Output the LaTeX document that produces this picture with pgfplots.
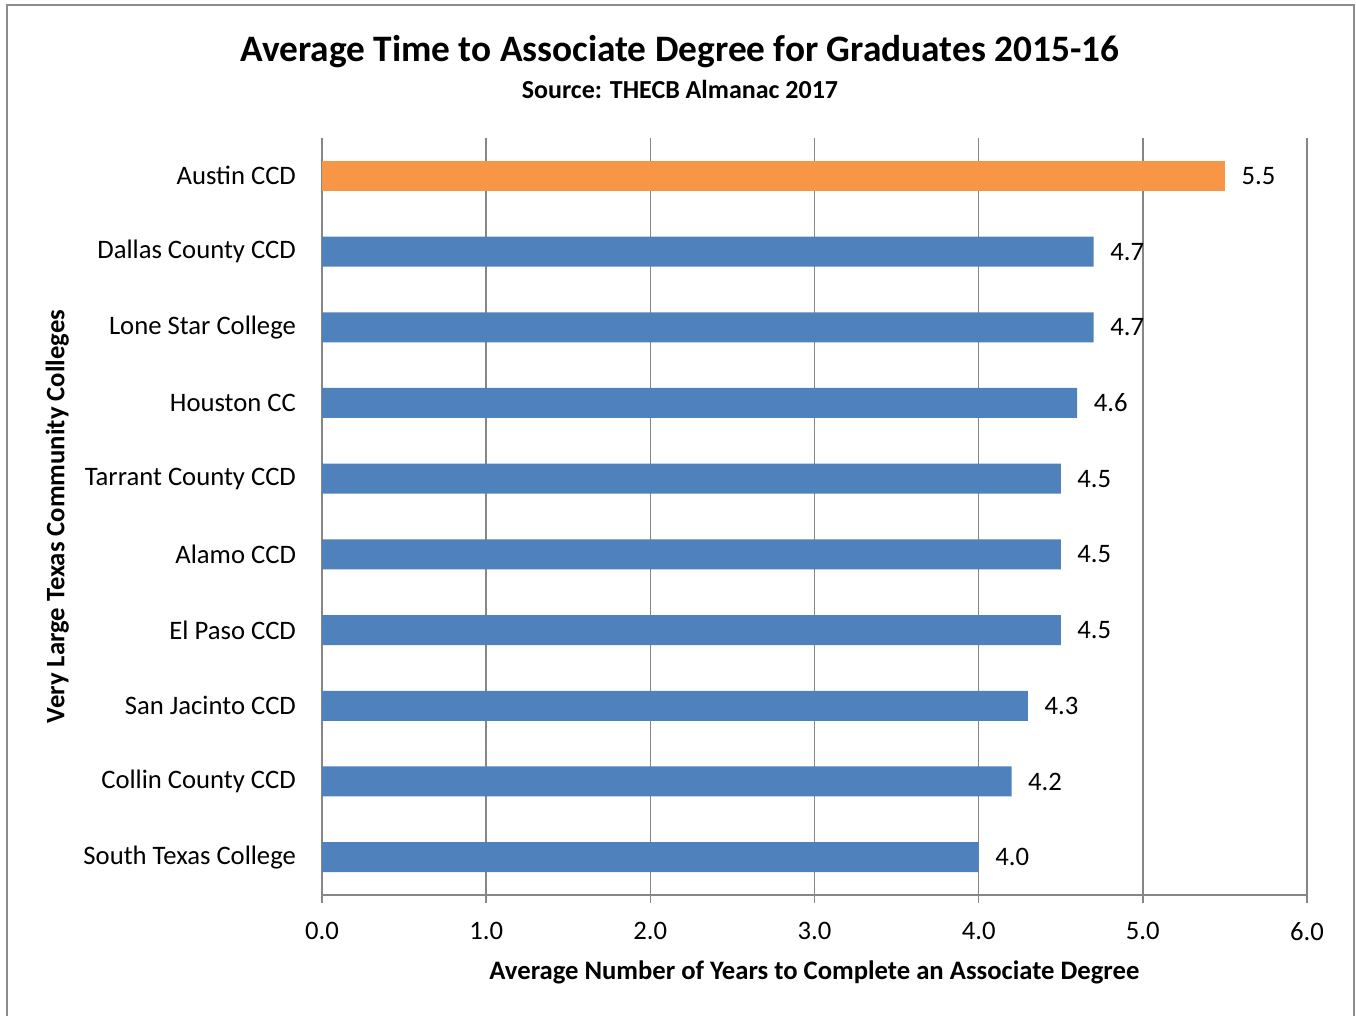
\documentclass[border=0pt]{standalone}
\usepackage{pgfplots}
\pgfplotsset{compat=1.18}
\usepackage{fontspec}
\setmainfont{Carlito}
\definecolor{barblue}{HTML}{4F81BD}
\definecolor{barorange}{HTML}{F79646}
\definecolor{gridgray}{HTML}{868686}
\definecolor{framegray}{HTML}{8C8C8C}
\begin{document}
\begin{tikzpicture}
\useasboundingbox (0,0) rectangle (1017pt,-761.25pt);
\draw[framegray, line width=1.5pt] (5.25pt,-3.75pt) rectangle (1015.5pt,-800pt);
\node[font=\fontsize{28}{32}\selectfont\bfseries] at (510pt,-38.5pt) {Average Time to Associate Degree for Graduates 2015-16};
\node[font=\fontsize{19.5}{23}\selectfont\bfseries] at (510pt,-67pt) {Source: THECB Almanac 2017};
\begin{axis}[
  at={(241.5pt,-671.25pt)}, anchor=south west,
  scale only axis, width=738.75pt, height=567.75pt,
  xmin=0, xmax=6, ymin=-0.5, ymax=9.5,
  axis x line*=bottom, axis y line*=left,
  axis line style={gridgray, line width=1.2pt},
  xtick={0,1,2,3,4,5,6},
  xticklabel style={/pgf/number format/fixed, /pgf/number format/fixed zerofill, /pgf/number format/precision=1},
  /pgf/number format/assume math mode=true,
  xmajorgrids, major grid style={gridgray, line width=1.2pt},
  tick style={gridgray, line width=1.2pt},
  xtick align=outside, major tick length=6pt,
  ytick={0,...,9},
  yticklabels={South Texas College, Collin County CCD, San Jacinto CCD, El Paso CCD, Alamo CCD, Tarrant County CCD, Houston CC, Lone Star College, Dallas County CCD, Austin CCD},
  ytick style={draw=none},
  tick label style={font=\fontsize{20}{24}\selectfont},
  xticklabel style={yshift=-11pt},
  yticklabel style={xshift=-10pt},
  xlabel={Average Number of Years to Complete an Associate Degree},
  ylabel={Very Large Texas Community Colleges},
  label style={font=\fontsize{20}{24}\selectfont\bfseries},
  xlabel style={yshift=-8pt},
  ylabel style={yshift=4pt},
  xbar, bar width=22.5pt, bar shift=0pt,
  nodes near coords,
  nodes near coords style={font=\fontsize{20}{24}\selectfont, anchor=west, xshift=9pt, /pgf/number format/fixed, /pgf/number format/fixed zerofill, /pgf/number format/precision=1, /pgf/number format/assume math mode=true},
  clip=false,
]
\addplot[fill=barblue, draw=none] coordinates {(4.0,0) (4.2,1) (4.3,2) (4.5,3) (4.5,4) (4.5,5) (4.6,6) (4.7,7) (4.7,8)};
\addplot[fill=barorange, draw=none] coordinates {(5.5,9)};
\end{axis}
\end{tikzpicture}
\end{document}
